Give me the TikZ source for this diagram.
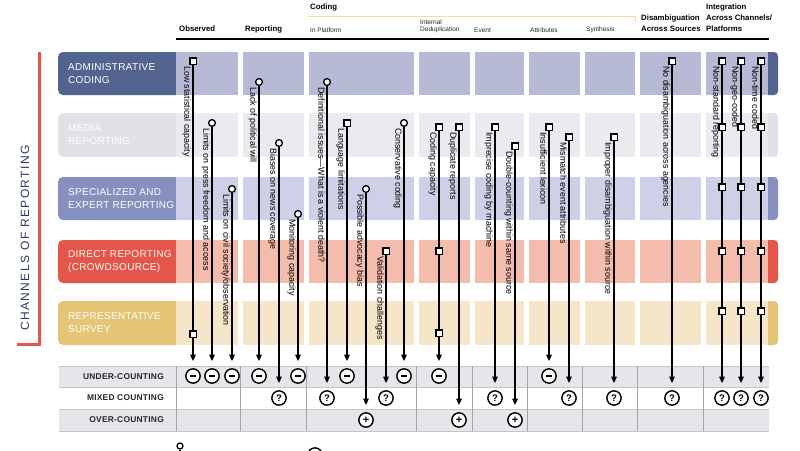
\documentclass[tikz,border=0pt]{standalone}
\usepackage{fontspec}
\setmainfont{Liberation Sans}
\newfontfamily\spaced[LetterSpace=3]{Liberation Sans}
\newfontfamily\widesp[LetterSpace=12]{Liberation Sans}
\usetikzlibrary{arrows.meta}
\definecolor{admD}{HTML}{52638F}
\definecolor{admL}{HTML}{B7BAD4}
\definecolor{medD}{HTML}{E0E2E7}
\definecolor{medL}{HTML}{EAEBEF}
\definecolor{speD}{HTML}{8690BF}
\definecolor{speL}{HTML}{CDD0E6}
\definecolor{dirD}{HTML}{E4554A}
\definecolor{dirL}{HTML}{F4BCAD}
\definecolor{repD}{HTML}{E6C476}
\definecolor{repL}{HTML}{F5E6C9}
\definecolor{navy}{HTML}{2E3A63}
\definecolor{tgrey}{HTML}{E6E6EA}
\definecolor{gline}{HTML}{C4C4CA}
\definecolor{vgline}{HTML}{A4A4AA}
\definecolor{yline}{HTML}{F6D9A2}
\newcommand\symmin{\rule{6.5pt}{1.7pt}}
\newcommand\symplus{\fontsize{11}{11}\selectfont +}
\newcommand\symq{?}
\newcommand\lol[7]{%
  \node[ring] (#1e) at (#2,#6) {#7};
  \node[#4] (#1s) at (#2,#3) {};
  \draw[conn] (#1s) -- (#1e);
  \node[lab] (#1l) at ({#2-2},{#3+5}) {#5};
}
\begin{document}
\begin{tikzpicture}[x=1pt,y=-1pt,
  sqm/.style={draw=black, fill=white, line width=1.3pt, rectangle, minimum size=6.3pt, inner sep=0pt},
  cim/.style={draw=black, fill=white, line width=1.3pt, circle, minimum size=6.8pt, inner sep=0pt},
  ring/.style={draw=black, fill=white, line width=1.4pt, circle, minimum size=14.3pt, inner sep=0pt, font=\bfseries\fontsize{9.5}{10}\selectfont},
  conn/.style={line width=1.4pt, -{Triangle[length=6.5pt,width=5.5pt]}, shorten >=7pt},
  lab/.style={rotate=-90, anchor=north west, inner sep=0pt, font=\fontsize{8.9}{10}\selectfont, text=black},
  hd/.style={anchor=west, inner sep=0pt, align=left, font=\bfseries\fontsize{7.8}{11}\selectfont, text=black},
  sub/.style={anchor=west, inner sep=0pt, align=left, font=\fontsize{6.5}{7}\selectfont, text=black!85},
  rowlab/.style={anchor=west, align=left, inner sep=0pt, text=white, font=\spaced\fontsize{10}{13}\selectfont},
  tlab/.style={anchor=east, inner sep=0pt, text=black!85, font=\spaced\bfseries\fontsize{8.4}{10}\selectfont},
]
\useasboundingbox (0,0) rectangle (800,450);

% ---------- row bands ----------
\foreach \ya/\yb/\cc/\la/\lb [count=\i] in {52/95/adm/ADMINISTRATIVE/CODING,113/157/med/MEDIA/REPORTING,177/220/spe/SPECIALIZED AND/EXPERT REPORTING,240/283/dir/DIRECT REPORTING/(CROWDSOURCE),301/345/rep/REPRESENTATIVE/SURVEY}{
  \fill[\cc D] (176,\ya) [rounded corners=5pt] -- (58,\ya) -- (58,\yb) [sharp corners] -- (176,\yb) -- cycle;
  \foreach \xa/\xb in {176/238,243/304,309/414,419/470,475/524,529/580,585/635,640/701,706/768}{
    \fill[\cc L] (\xa,\ya) rectangle (\xb,\yb);
  }
  \fill[\cc D] (768,\ya) [rounded corners=4pt] -- (778,\ya) -- (778,\yb) [sharp corners] -- (768,\yb) -- cycle;
  \node[rowlab] (row\i) at (68,{(\ya+\yb)/2}) {\la\\\lb};
}

% ---------- bracket and side title ----------
\draw[dirD, line width=3pt] (39,52) -- (39,344) -- (17,344);
\node[rotate=90, inner sep=0pt, text=navy, font=\widesp\fontsize{12}{12}\selectfont] (side) at (25,238) {CHANNELS OF REPORTING};

% ---------- header ----------
\node[hd] (hcod) at (310,7) {Coding};
\draw[yline, line width=1pt] (308,16) -- (635,16) -- (635,22);
\node[hd] (hobs) at (179,29) {Observed};
\node[hd] (hrep) at (245,29) {Reporting};
\node[sub] (hinp) at (310,30) {In Platform};
\node[sub] (hded) at (420,26.5) {Internal\\Deduplication};
\node[sub] (hevt) at (474,30) {Event};
\node[sub] (hatt) at (530,30) {Attributes};
\node[sub] (hsyn) at (586,30) {Synthesis};
\node[hd] (hdis) at (641,23.5) {Disambiguation\\Across Sources};
\node[hd] (hint) at (706,18) {Integration\\Across Channels/\\Platforms};
\draw[line width=2pt] (176,39) -- (769,39);

% ---------- bottom table ----------
\fill[tgrey] (59,366) rectangle (769,387);
\fill[tgrey] (59,409) rectangle (769,431);
\foreach \yy in {366,387,409,431} \draw[gline, line width=0.8pt] (59,\yy) -- (769,\yy);
\foreach \xx in {176,240.5,306.5,416.5,472.5,527,582,637.5,703} \draw[vgline, line width=0.8pt] (\xx,366) -- (\xx,431);
\node[tlab] (tund) at (164,376.5) {UNDER-COUNTING};
\node[tlab] (tmix) at (164,398) {MIXED COUNTING};
\node[tlab] (tovr) at (164,420) {OVER-COUNTING};

% ---------- connectors ----------
\lol{a}{193}{61}{sqm}{Low statistical capacity}{376}{\symmin}
\lol{b}{212}{123}{cim}{Limits on press freedom and access}{376}{\symmin}
\lol{c}{232}{189}{cim}{Limits on civil society/observation}{376}{\symmin}
\lol{d}{259}{82}{cim}{Lack of political will}{376}{\symmin}
\lol{e}{279}{143}{cim}{Biases on news coverage}{398}{\symq}
\lol{f}{298}{214}{cim}{Monitoring capacity}{376}{\symmin}
\lol{g}{327}{82}{cim}{Definitional issues—What is a violent death?}{398}{\symq}
\lol{h}{347}{123}{sqm}{Language limitations}{376}{\symmin}
\lol{i}{366}{189}{cim}{Possible advocacy bias}{420}{\symplus}
\lol{j}{386}{251}{sqm}{Validation challenges}{398}{\symq}
\lol{k}{404}{123}{cim}{Conservative coding}{376}{\symmin}
\lol{l}{439}{127}{sqm}{Coding capacity}{376}{\symmin}
\lol{m}{459}{127}{sqm}{Duplicate reports}{420}{\symplus}
\lol{n}{495}{127}{sqm}{Imprecise coding by machine}{398}{\symq}
\lol{o}{515}{146}{sqm}{Double-counting within same source}{420}{\symplus}
\lol{p}{549}{127}{sqm}{Insufficient lexicon}{376}{\symmin}
\lol{q}{569}{137}{sqm}{Mismatch event attributes}{398}{\symq}
\lol{r}{614}{137}{sqm}{Improper disambiguation within source}{398}{\symq}
\lol{s}{672}{61}{sqm}{No disambiguation across agencies}{398}{\symq}
\lol{t}{722}{61}{sqm}{Non-standard reporting}{398}{\symq}
\lol{u}{741}{61}{sqm}{Non-geo-coded}{398}{\symq}
\lol{v}{761}{61}{sqm}{Non-time coded}{398}{\symq}

% ---------- additional markers ----------
\node[sqm] (a2) at (193,334) {};
\node[sqm] (l2) at (439,251) {};
\node[sqm] (l3) at (439,333) {};
\foreach \nn/\xx in {t/722,u/741,v/761}{
  \foreach \yy [count=\k] in {127,187,251,311}{
    \node[sqm] (\nn m\k) at (\xx,\yy) {};
  }
}

% ---------- legend (cut off) ----------
\node[cim, minimum size=6pt] (lg1) at (180,446) {};
\coordinate (lg1b) at (180,460);
\draw[line width=1.2pt] (lg1) -- (lg1b);
\node[ring] (lg2) at (315,455) {};
\end{tikzpicture}
\end{document}
